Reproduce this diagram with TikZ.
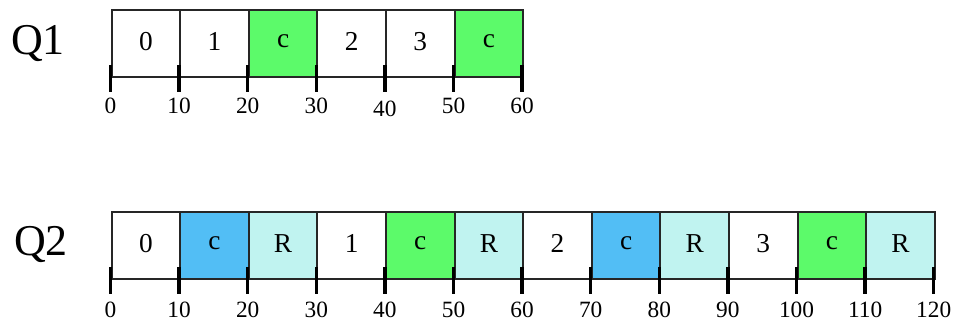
\documentclass[tikz,border=0pt]{standalone}
\usepackage{fontspec}
\setmainfont{Liberation Serif}
\definecolor{cgreen}{RGB}{92,250,106}
\definecolor{cblue}{RGB}{82,190,245}
\definecolor{ccyan}{RGB}{192,243,240}
\tikzset{
  cell/.style={draw=black!85, line width=1.6pt, minimum width=68.6*0.75pt, minimum height=67*0.75pt, inner sep=0pt, font=\fontsize{20.5}{20.5}\selectfont, anchor=south west},
  tickmark/.style={line width=2.6pt, black},
  ticklab/.style={font=\fontsize{17.5}{17.5}\selectfont, inner sep=0pt},
  qlab/.style={font=\fontsize{33}{33}\selectfont, inner sep=0pt}
}
\begin{document}
\begin{tikzpicture}[x=0.75pt,y=-0.75pt]
\useasboundingbox (0,0) rectangle (955,326);
% Q1
\node[qlab] (q1) at (38,43) {Q1};
\foreach \lab/\col [count=\i from 0] in {0/white,1/white,c/cgreen,2/white,3/white,c/cgreen}{
  \node[cell, fill=\col] (a\i) at (110.5+68.6*\i,78) {\raisebox{3pt}{\lab}};
}
\foreach \i in {0,...,6}{
  \coordinate (ta\i) at (110.5+68.6*\i,65);
  \coordinate (tb\i) at (110.5+68.6*\i,92);
  \draw[tickmark] (ta\i) -- (tb\i);
}
\foreach \i/\v in {0/0,1/10,2/20,3/30,5/50,6/60}{
  \node[ticklab] (la\i) at (110.5+68.6*\i,106) {\v};
}
\node[ticklab] (la4) at (110.5+68.6*4,109) {40};
% Q2
\node[qlab] (q2) at (41,244) {Q2};
\foreach \lab/\col [count=\i from 0] in {0/white,c/cblue,R/ccyan,1/white,c/cgreen,R/ccyan,2/white,c/cblue,R/ccyan,3/white,c/cgreen,R/ccyan}{
  \node[cell, fill=\col] (b\i) at (110.5+68.6*\i,280) {\raisebox{3pt}{\lab}};
}
\foreach \i in {0,...,12}{
  \coordinate (tc\i) at (110.5+68.6*\i,267);
  \coordinate (td\i) at (110.5+68.6*\i,294);
  \draw[tickmark] (tc\i) -- (td\i);
}
\foreach \i in {0,...,12}{
  \pgfmathtruncatemacro{\v}{10*\i}
  \node[ticklab] (lb\i) at (110.5+68.6*\i,310) {\v};
}
\end{tikzpicture}
\end{document}
